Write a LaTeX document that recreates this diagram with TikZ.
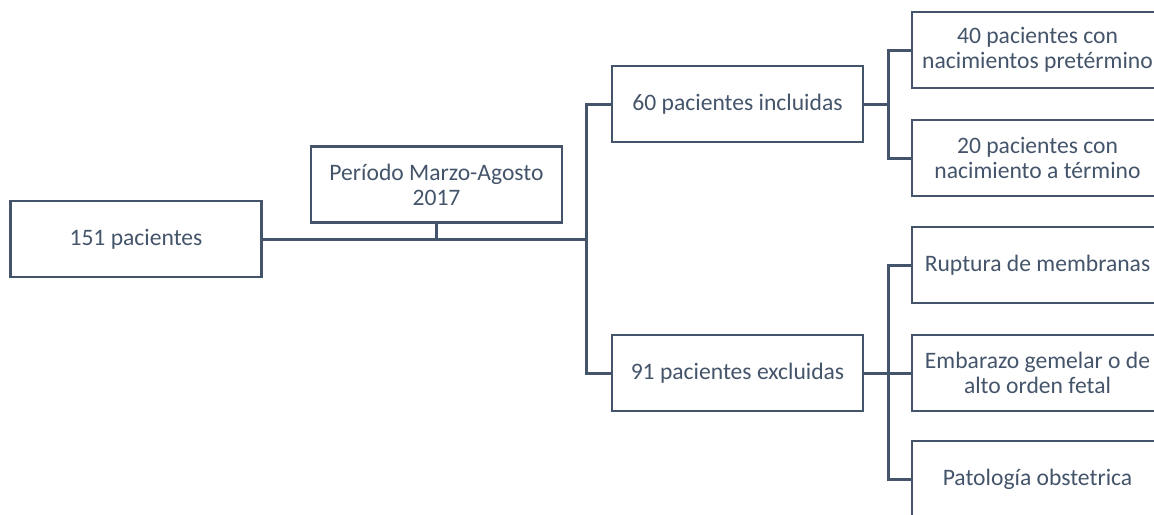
\documentclass[tikz,border=0pt]{standalone}
\usepackage{fontspec}
\setmainfont{Carlito}
\usetikzlibrary{positioning}

\definecolor{slate}{HTML}{44546A}

\begin{document}
\begin{tikzpicture}[
    x=0.5pt, y=-0.5pt,
    box/.style={rectangle, draw=slate, line width=1.4pt, text=slate, align=center,
        minimum width=125.5pt, minimum height=38pt, inner sep=2pt,
        font=\fontsize{11.8}{12.5}\selectfont},
    link/.style={draw=slate, line width=1.5pt}
]
    \useasboundingbox (0,0) rectangle (1154,514);

    \node[box] (pac) at (136,239) {151 pacientes};
    \node[box] (periodo) at (436.5,184.5) {Período Marzo-Agosto\\2017};

    \node[box] (incl) at (737.5,104) {60 pacientes incluidas};
    \node[box] (excl) at (737.5,373) {91 pacientes excluidas};

    \node[box] (pre) at (1037.5,50) {40 pacientes con\\nacimientos pretérmino};
    \node[box] (term) at (1037.5,158) {20 pacientes con\\nacimiento a término};

    \node[box] (rup) at (1037.5,265) {Ruptura de membranas};
    \node[box] (gem) at (1037.5,373) {Embarazo gemelar o de\\alto orden fetal};
    \node[box] (pat) at (1037.5,479) {Patología obstetrica};

    \coordinate (split) at (586,239);
    \coordinate[right=12pt of incl.east] (forkin);
    \coordinate[right=12pt of excl.east] (forkex);

    \draw[link] (pac.east) -- (split);
    \draw[link] (periodo.south) -- (periodo.south |- split);
    \draw[link] (incl.west) -| (split) |- (excl.west);

    \draw[link] (incl.east) -- (forkin);
    \draw[link] (pre.west) -| (forkin) |- (term.west);

    \draw[link] (excl.east) -- (forkex);
    \draw[link] (rup.west) -| (forkex) |- (pat.west);
    \draw[link] (gem.west) -- (forkex);
\end{tikzpicture}
\end{document}
